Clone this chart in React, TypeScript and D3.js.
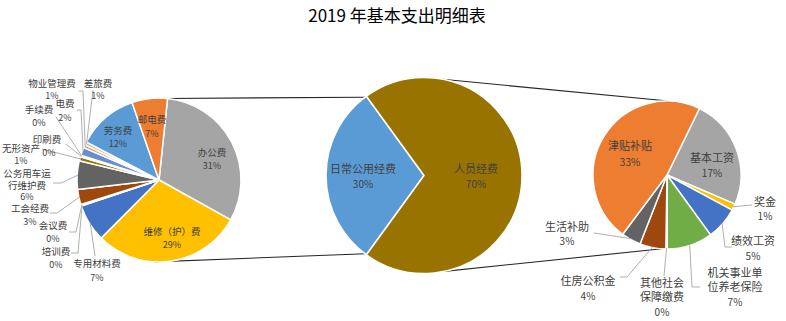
import React, { useEffect } from 'react';
import * as d3 from 'd3';

// ---------------- data ----------------
const title = '2019 年基本支出明细表';

const mainCategories = ['日常公用经费', '人员经费'];
const mainValues = [30, 70];
const mainColors = ['#5B9BD5', '#997300'];

const leftCategories = [
  '办公费', '维修（护）费', '专用材料费', '培训费', '会议费', '工会经费',
  '公务用车运行维护费', '无形资产', '印刷费', '手续费', '电费', '物业管理费',
  '差旅费', '劳务费', '邮电费',
];
const leftValues = [31.4, 29.4, 7.4, 0.1, 0.2, 3.0, 5.6, 0.8, 0.2, 0.1, 1.6, 0.6, 0.6, 12.0, 7.0];
const leftColors = [
  '#A5A5A5', '#FFC000', '#4472C4', '#70AD47', '#264478', '#9E480E',
  '#636363', '#997300', '#255E91', '#43682B', '#698ED0', '#F1975A',
  '#B7B7B7', '#5B9BD5', '#ED7D31',
];

const rightCategories = [
  '基本工资', '奖金', '绩效工资', '机关事业单位养老保险', '其他社会保障缴费',
  '住房公积金', '生活补助', '津贴补贴',
];
const rightValues = [17, 1, 5, 7, 0.2, 4, 3, 33];
const rightColors = ['#A5A5A5', '#FFC000', '#4472C4', '#70AD47', '#5B9BD5', '#9E480E', '#636363', '#ED7D31'];

// ---------------- layout ----------------
type Lbl = { lines: string[]; x: number; y: number; pctY: number; pctX?: number; leader?: [number, number][] };

const leftLabels: Lbl[] = [
  { lines: ['办公费'], x: 212, y: 152, pctY: 165 },
  { lines: ['维修（护）费'], x: 172, y: 231, pctY: 244 },
  { lines: ['专用材料费'], x: 97, y: 263, pctY: 277, leader: [[95, 256]] },
  { lines: ['培训费'], x: 56, y: 251, pctY: 264, leader: [[71, 253], [78, 253]] },
  { lines: ['会议费'], x: 53, y: 225, pctY: 238, leader: [[69, 232], [76, 232]] },
  { lines: ['工会经费'], x: 30, y: 208, pctY: 221, leader: [[50, 213], [57, 213]] },
  { lines: ['公务用车运', '行维护费'], x: 27, y: 173, pctY: 196, leader: [[53, 183], [61, 183]] },
  { lines: ['无形资产'], x: 21, y: 148, pctY: 160, leader: [[42, 149]] },
  { lines: ['印刷费'], x: 47, y: 139, pctY: 152, pctX: 49, leader: [[66, 144]] },
  { lines: ['手续费'], x: 39, y: 109, pctY: 122, leader: [[56, 117]] },
  { lines: ['电费'], x: 65, y: 103, pctY: 117, leader: [[77, 110], [81, 110]] },
  { lines: ['物业管理费'], x: 52, y: 83, pctY: 95, leader: [[79, 91], [83, 91]] },
  { lines: ['差旅费'], x: 98, y: 83, pctY: 95, leader: [[93, 90]] },
  { lines: ['劳务费'], x: 118, y: 130, pctY: 143 },
  { lines: ['邮电费'], x: 152, y: 119, pctY: 133 },
];

const rightLabels: Lbl[] = [
  { lines: ['基本工资'], x: 712, y: 157, pctY: 172 },
  { lines: ['奖金'], x: 765, y: 201, pctY: 215, leader: [[752, 205]] },
  { lines: ['绩效工资'], x: 753, y: 240, pctY: 255, leader: [[732, 247], [725, 247]] },
  { lines: ['机关事业单', '位养老保险'], x: 735, y: 272, pctY: 301, leader: [[700, 287], [692, 287]] },
  { lines: ['其他社会', '保障缴费'], x: 662, y: 282, pctY: 311, leader: [[664, 276]] },
  { lines: ['住房公积金'], x: 588, y: 280, pctY: 295, leader: [[620, 277], [627, 277]] },
  { lines: ['生活补助'], x: 567, y: 226, pctY: 240, leader: [[594, 233]] },
  { lines: ['津贴补贴'], x: 630, y: 145, pctY: 161 },
];

const mainLabels: Lbl[] = [
  { lines: ['日常公用经费'], x: 363, y: 168, pctY: 183 },
  { lines: ['人员经费'], x: 476, y: 168, pctY: 183 },
];

const deg = Math.PI / 180;
const FONT = '"Noto Sans CJK SC", "Noto Sans", sans-serif';
const TXT = '#404040';

type PieSpec = {
  cx: number; cy: number; r: number; start: number;
  values: number[]; colors: string[]; labels: Lbl[];
  pct: (v: number, i: number) => number;
  fs: number; pfs: number; lh: number;
};

function pt(cx: number, cy: number, r: number, a: number): [number, number] {
  return [cx + r * Math.sin(a), cy - r * Math.cos(a)];
}

function Pie({ s }: { s: PieSpec }) {
  const pie = d3.pie<number>().sort(null).value((d) => d)
    .startAngle(s.start * deg).endAngle(s.start * deg + 2 * Math.PI);
  const arcs = pie(s.values);
  const arc = d3.arc<d3.PieArcDatum<number>>().innerRadius(0).outerRadius(s.r);
  const line = d3.line();
  return (
    <g>
      <g transform={`translate(${s.cx},${s.cy})`}>
        {arcs.map((a, i) => (
          <path key={i} d={arc(a) || ''} fill={s.colors[i]} stroke="#fff" strokeWidth={1.5} strokeLinejoin="round" />
        ))}
      </g>
      {arcs.map((a, i) => {
        const L = s.labels[i];
        if (!L.leader) return null;
        const mid = (a.startAngle + a.endAngle) / 2;
        const end = pt(s.cx, s.cy, s.r - 1, mid);
        return <path key={'l' + i} d={line([...L.leader, end]) || ''} fill="none" stroke="#A6A6A6" strokeWidth={0.9} />;
      })}
      {arcs.map((a, i) => {
        const L = s.labels[i];
        return (
          <text key={'t' + i} fontFamily={FONT} fill={TXT} textAnchor="middle">
            {L.lines.map((ln, j) => (
              <tspan key={j} x={L.x} y={L.y + j * s.lh} fontSize={s.fs} dominantBaseline="central">{ln}</tspan>
            ))}
            <tspan x={L.pctX ?? L.x} y={L.pctY} fontSize={s.pfs} dominantBaseline="central">{Math.round(s.pct(a.data, i)) + '%'}</tspan>
          </text>
        );
      })}
    </g>
  );
}

export default function App() {
  useEffect(() => {
    document.body.style.margin = '0';
  }, []);

  const leftSum = d3.sum(leftValues);
  const rightSum = d3.sum(rightValues);
  const mainSum = d3.sum(mainValues);

  const left: PieSpec = {
    cx: 159, cy: 180, r: 82, start: 6, values: leftValues, colors: leftColors, labels: leftLabels,
    pct: (v) => (v / leftSum) * 100, fs: 9.5, pfs: 9, lh: 11.5,
  };
  const main: PieSpec = {
    cx: 424, cy: 175.5, r: 98, start: 216, values: mainValues, colors: mainColors, labels: mainLabels,
    pct: (v) => (v / mainSum) * 100, fs: 11, pfs: 10, lh: 13,
  };
  const right: PieSpec = {
    cx: 667, cy: 175, r: 74, start: 26, values: rightValues, colors: rightColors, labels: rightLabels,
    pct: (v) => (v / rightSum) * (mainValues[1] / mainSum) * 100, fs: 11, pfs: 10, lh: 14,
  };

  // connector lines between pies
  const conn = [
    [pt(left.cx, left.cy, left.r, 6 * deg), pt(main.cx, main.cy, main.r, 323 * deg)],
    [pt(left.cx, left.cy, left.r, 183 * deg), pt(main.cx, main.cy, main.r, 217 * deg)],
    [pt(main.cx, main.cy, main.r, 11 * deg), pt(right.cx, right.cy, right.r, 1 * deg)],
    [pt(main.cx, main.cy, main.r, 168 * deg), pt(right.cx, right.cy, right.r, 184 * deg)],
  ];
  const line = d3.line();

  return (
    <div style={{ position: 'absolute', left: 0, top: 0 }}>
      <svg width={786} height={321} style={{ display: 'block', background: '#fff' }}>
        <text x={397} y={14} textAnchor="middle" dominantBaseline="central" fontFamily={FONT} fontSize={17} fill="#000">
          {title}
        </text>
        {conn.map((c, i) => (
          <path key={i} d={line(c as [number, number][]) || ''} stroke="#262626" strokeWidth={1.1} fill="none" />
        ))}
        <Pie s={left} />
        <Pie s={main} />
        <Pie s={right} />
      </svg>
    </div>
  );
}
